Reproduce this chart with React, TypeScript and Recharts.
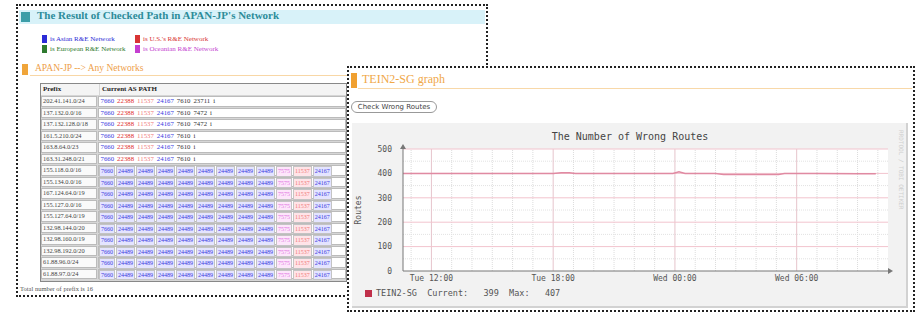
import React from 'react'
import {
  LineChart,
  Line,
  XAxis,
  YAxis,
  CartesianGrid,
  ReferenceLine,
  ReferenceDot
} from 'recharts'

// time in hours since Tue 00:00, routes = number of wrong routes
const times = [10.6, 12, 14, 16, 18, 18.4, 18.8, 19.1, 20, 22, 23.9, 24.2, 24.5, 26, 26.4, 27.5, 29.1, 29.4, 31, 33, 33.9]
const routes = [400, 400, 400, 400, 400, 403, 403, 400, 400, 400, 400, 407, 400, 400, 396, 396, 396, 400, 400, 399, 399]

const timeTicks = [12, 18, 24, 30]
const timeLabels = ['Tue 12:00', 'Tue 18:00', 'Wed 00:00', 'Wed 06:00']
const routeTicks = [0, 100, 200, 300, 400, 500]
const minorRoutes = [50, 150, 250, 350, 450]
const hourLines = [11, 13, 14, 15, 16, 17, 19, 20, 21, 22, 23, 25, 26, 27, 28, 29, 31, 32, 33, 34]

const prefixes = [
  '202.41.141.0/24', '137.132.0.0/16', '137.132.128.0/18', '161.5.210.0/24',
  '163.8.64.0/23', '163.31.248.0/21', '155.118.0.0/16', '155.134.0.0/16',
  '167.124.64.0/19', '155.127.0.0/16', '155.127.64.0/19', '132.98.144.0/20',
  '132.98.160.0/19', '132.98.192.0/20', '61.88.96.0/24', '61.88.97.0/24'
]
const shortPaths = [
  ['7660', '22388', '11537', '24167', '7610', '23711', 'i'],
  ['7660', '22388', '11537', '24167', '7610', '7472', 'i'],
  ['7660', '22388', '11537', '24167', '7610', '7472', 'i'],
  ['7660', '22388', '11537', '24167', '7610', 'i'],
  ['7660', '22388', '11537', '24167', '7610', 'i'],
  ['7660', '22388', '11537', '24167', '7610', 'i']
]
const longPath = ['7660', '24489', '24489', '24489', '24489', '24489', '24489', '24489', '24489', '7575', '11537', '24167']

const regionNames = ['is Asian R&E Network', "is U.S.'s R&E Network", 'is European R&E Network', 'is Oceanian R&E Network']
const regionColors = ['#2b2bd6', '#d83434', '#2f7a2f', '#c43fd0']

const asColor: Record<string, string> = {
  '7660': '#3a3ae0', '24489': '#3a3ae0', '24167': '#3a3ae0',
  '22388': '#e03030', '11537': '#f07a7a', '7575': '#e070e0'
}
const asCellBg: Record<string, string> = {
  '7660': '#e4e4ff', '24489': '#e4e4ff', '24167': '#e4e4ff',
  '11537': '#ffe4e8', '7575': '#fde6fb'
}

const chartData = times.map((t, i) => ({ t, v: routes[i] }))

const mono = 'DejaVu Sans Mono, monospace'
const serif = 'Liberation Serif, serif'

const ArrowRight = (p: any) => (
  <path d={`M${p.cx},${p.cy - 3} L${p.cx + 5},${p.cy} L${p.cx},${p.cy + 3} Z`} fill="#777" />
)
const ArrowUp = (p: any) => (
  <path d={`M${p.cx - 3},${p.cy} L${p.cx},${p.cy - 5} L${p.cx + 3},${p.cy} Z`} fill="#777" />
)

const abs = (left: number, top: number, extra: React.CSSProperties = {}): React.CSSProperties => ({
  position: 'absolute', left, top, ...extra
})

const RoutesChart = () => (
  <LineChart
    width={556}
    height={185}
    data={chartData}
    margin={{ top: 26, right: 20, left: 0, bottom: 0 }}
  >
    <CartesianGrid fill="#ffffff" horizontal={false} vertical={false} />
    {hourLines.map((h) => (
      <ReferenceLine key={'h' + h} x={h} stroke="#dcdcdc" strokeDasharray="1 1" />
    ))}
    {minorRoutes.map((r) => (
      <ReferenceLine key={'r' + r} y={r} stroke="#e2e2e2" strokeDasharray="1 1" />
    ))}
    {timeTicks.map((h) => (
      <ReferenceLine key={'H' + h} x={h} stroke="#e6c4cc" />
    ))}
    {routeTicks.slice(1).map((r) => (
      <ReferenceLine key={'R' + r} y={r} stroke="#f2c4ce" />
    ))}
    <XAxis
      type="number"
      dataKey="t"
      domain={[10.6, 34.5]}
      ticks={timeTicks}
      tickFormatter={(v) => timeLabels[timeTicks.indexOf(v)]}
      height={37}
      axisLine={{ stroke: '#777' }}
      tickLine={false}
      tickSize={4}
      tickMargin={0}
      tick={{ fontSize: 8, fill: '#555', fontFamily: mono }}
      allowDataOverflow
    />
    <YAxis
      type="number"
      domain={[0, 500]}
      ticks={routeTicks}
      width={51}
      axisLine={{ stroke: '#777' }}
      tickLine={false}
      tickMargin={5}
      tick={{ fontSize: 8, fill: '#555', fontFamily: mono }}
      label={{
        value: 'Routes',
        angle: -90,
        position: 'insideLeft',
        offset: 6,
        style: { fontSize: 8, fill: '#555', fontFamily: mono, textAnchor: 'middle' }
      }}
    />
    <Line
      dataKey="v"
      type="linear"
      stroke="#e08aa2"
      strokeWidth={1.5}
      dot={false}
      isAnimationActive={false}
    />
    <ReferenceDot x={34.5} y={0} r={0} shape={ArrowRight} ifOverflow="visible" />
    <ReferenceDot x={10.6} y={500} r={0} shape={ArrowUp} ifOverflow="visible" />
  </LineChart>
)

const AsCell = ({ as, boxed }: { as: string; boxed: boolean }) => (
  <span
    style={{
      display: 'inline-block',
      color: asColor[as] || '#333',
      background: boxed ? asCellBg[as] || '#fff' : 'transparent',
      border: boxed ? '1px solid #c4c4c4' : 'none',
      padding: boxed ? '0 1px' : '0 1.5px',
      marginRight: boxed ? 1 : 0,
      height: boxed ? 8.5 : 'auto',
      lineHeight: '8.5px',
      fontSize: boxed ? 6 : 6.8
    }}
  >
    {as}
  </span>
)

const App = () => {
  const current = routes[routes.length - 1]
  const max = Math.max(...routes)
  return (
    <div style={{ position: 'absolute', left: 0, top: 0, width: 922, height: 312, background: '#fff', overflow: 'hidden', fontFamily: serif }}>
      {/* left panel */}
      <div style={abs(16, 4, { width: 472, height: 293, border: '2px dotted #222', boxSizing: 'border-box' })} />
      <div style={abs(19, 10, { width: 466, height: 14, background: '#d8f2f9' })} />
      <div style={abs(21, 12, { width: 9, height: 10, background: '#3c9ea8' })} />
      <div style={abs(37, 9, { fontSize: 11, fontWeight: 'bold', color: '#2d8c99', whiteSpace: 'nowrap' })}>
        The Result of Checked Path in APAN-JP's Network
      </div>
      {regionNames.map((n, i) => (
        <div key={n} style={abs(i % 2 === 0 ? 42 : 135, 35 + Math.floor(i / 2) * 10, { display: 'flex', alignItems: 'center', whiteSpace: 'nowrap' })}>
          <span style={{ display: 'inline-block', width: 5, height: 8, background: regionColors[i], marginRight: 3 }} />
          <span style={{ fontSize: 7, color: regionColors[i] }}>{n}</span>
        </div>
      ))}
      <div style={abs(22, 64, { width: 6, height: 11, background: '#f0a53a' })} />
      <div style={abs(35, 63, { fontSize: 9.5, color: '#eea04a', whiteSpace: 'nowrap' })}>APAN-JP --&gt; Any Networks</div>
      <div style={abs(30, 75, { width: 455, height: 1, background: '#f8d7a6' })} />

      <div style={abs(40, 83, { width: 307, height: 199, overflow: 'hidden', border: '1px solid #888', boxSizing: 'border-box', background: '#d6d6d6' })}>
        <div style={{ display: 'flex', height: 11, marginBottom: 1, fontSize: 7, fontWeight: 'bold', color: '#222' }}>
          <div style={{ width: 56, background: '#f4f4f4', paddingLeft: 2, lineHeight: '11px', marginRight: 1 }}>Prefix</div>
          <div style={{ flex: 1, background: '#f4f4f4', paddingLeft: 2, lineHeight: '11px' }}>Current AS PATH</div>
        </div>
        {prefixes.map((p, i) => {
          const boxed = i >= shortPaths.length
          const path = boxed ? longPath : shortPaths[i]
          return (
            <div key={p} style={{ display: 'flex', height: 10.5, marginBottom: 1, fontSize: 6.4 }}>
              <div style={{ width: 56, background: '#fafafa', border: '1px solid #bbb', boxSizing: 'border-box', paddingLeft: 1, lineHeight: '8.5px', color: '#444', marginRight: 1, whiteSpace: 'nowrap' }}>{p}</div>
              <div style={{ flex: 1, background: '#fff', border: '1px solid #bbb', boxSizing: 'border-box', whiteSpace: 'nowrap', lineHeight: '8.5px' }}>
                {path.map((a, j) => (
                  <AsCell key={j} as={a} boxed={boxed} />
                ))}
              </div>
            </div>
          )
        })}
      </div>
      <div style={abs(20, 285, { fontSize: 6.5, color: '#555', whiteSpace: 'nowrap' })}>
        Total number of prefix is {prefixes.length}
      </div>

      {/* right panel */}
      <div style={abs(347, 66, { width: 568, height: 246, border: '2px dotted #222', boxSizing: 'border-box', background: '#fff', zIndex: 2 })} />
      <div style={{ position: 'absolute', left: 0, top: 0, zIndex: 3 }}>
        <div style={abs(351, 73, { width: 6, height: 15, background: '#f0a030' })} />
        <div style={abs(362, 72, { fontSize: 12, color: '#f0a848', whiteSpace: 'nowrap' })}>TEIN2-SG graph</div>
        <div style={abs(358, 88, { width: 554, height: 1, background: '#f8d8a8' })} />
        <div
          style={abs(351, 101, {
            width: 86, height: 12, border: '1px solid #999', borderRadius: 6, boxSizing: 'border-box',
            fontSize: 7, fontFamily: 'DejaVu Sans, sans-serif', color: '#444', textAlign: 'center', lineHeight: '10px', whiteSpace: 'nowrap'
          })}
        >
          Check Wrong Routes
        </div>
        <div style={abs(352, 123, { width: 556, height: 185, background: '#f2f2f2', borderRight: '2px solid #d2d2d2', borderBottom: '2px solid #d2d2d2', boxSizing: 'border-box' })} />
        <div style={abs(352, 123)}>
          <RoutesChart />
        </div>
        <div style={abs(352, 131, { width: 556, textAlign: 'center', fontSize: 10, fontFamily: mono, color: '#444', whiteSpace: 'nowrap' })}>
          The Number of Wrong Routes
        </div>
        <div style={abs(365, 288, { display: 'flex', alignItems: 'center', fontSize: 8.5, fontFamily: mono, color: '#555', whiteSpace: 'pre' })}>
          <span style={{ display: 'inline-block', width: 7, height: 7, background: '#c0304a', marginRight: 4 }} />
          {`TEIN2-SG  Current:   ${current}  Max:   ${max}`}
        </div>
        <div
          style={abs(898, 130, {
            writingMode: 'vertical-rl', fontSize: 6, fontFamily: mono, color: '#cfcfcf', whiteSpace: 'nowrap'
          })}
        >
          RRDTOOL / TOBI OETIKER
        </div>
      </div>
    </div>
  )
}

export default App
